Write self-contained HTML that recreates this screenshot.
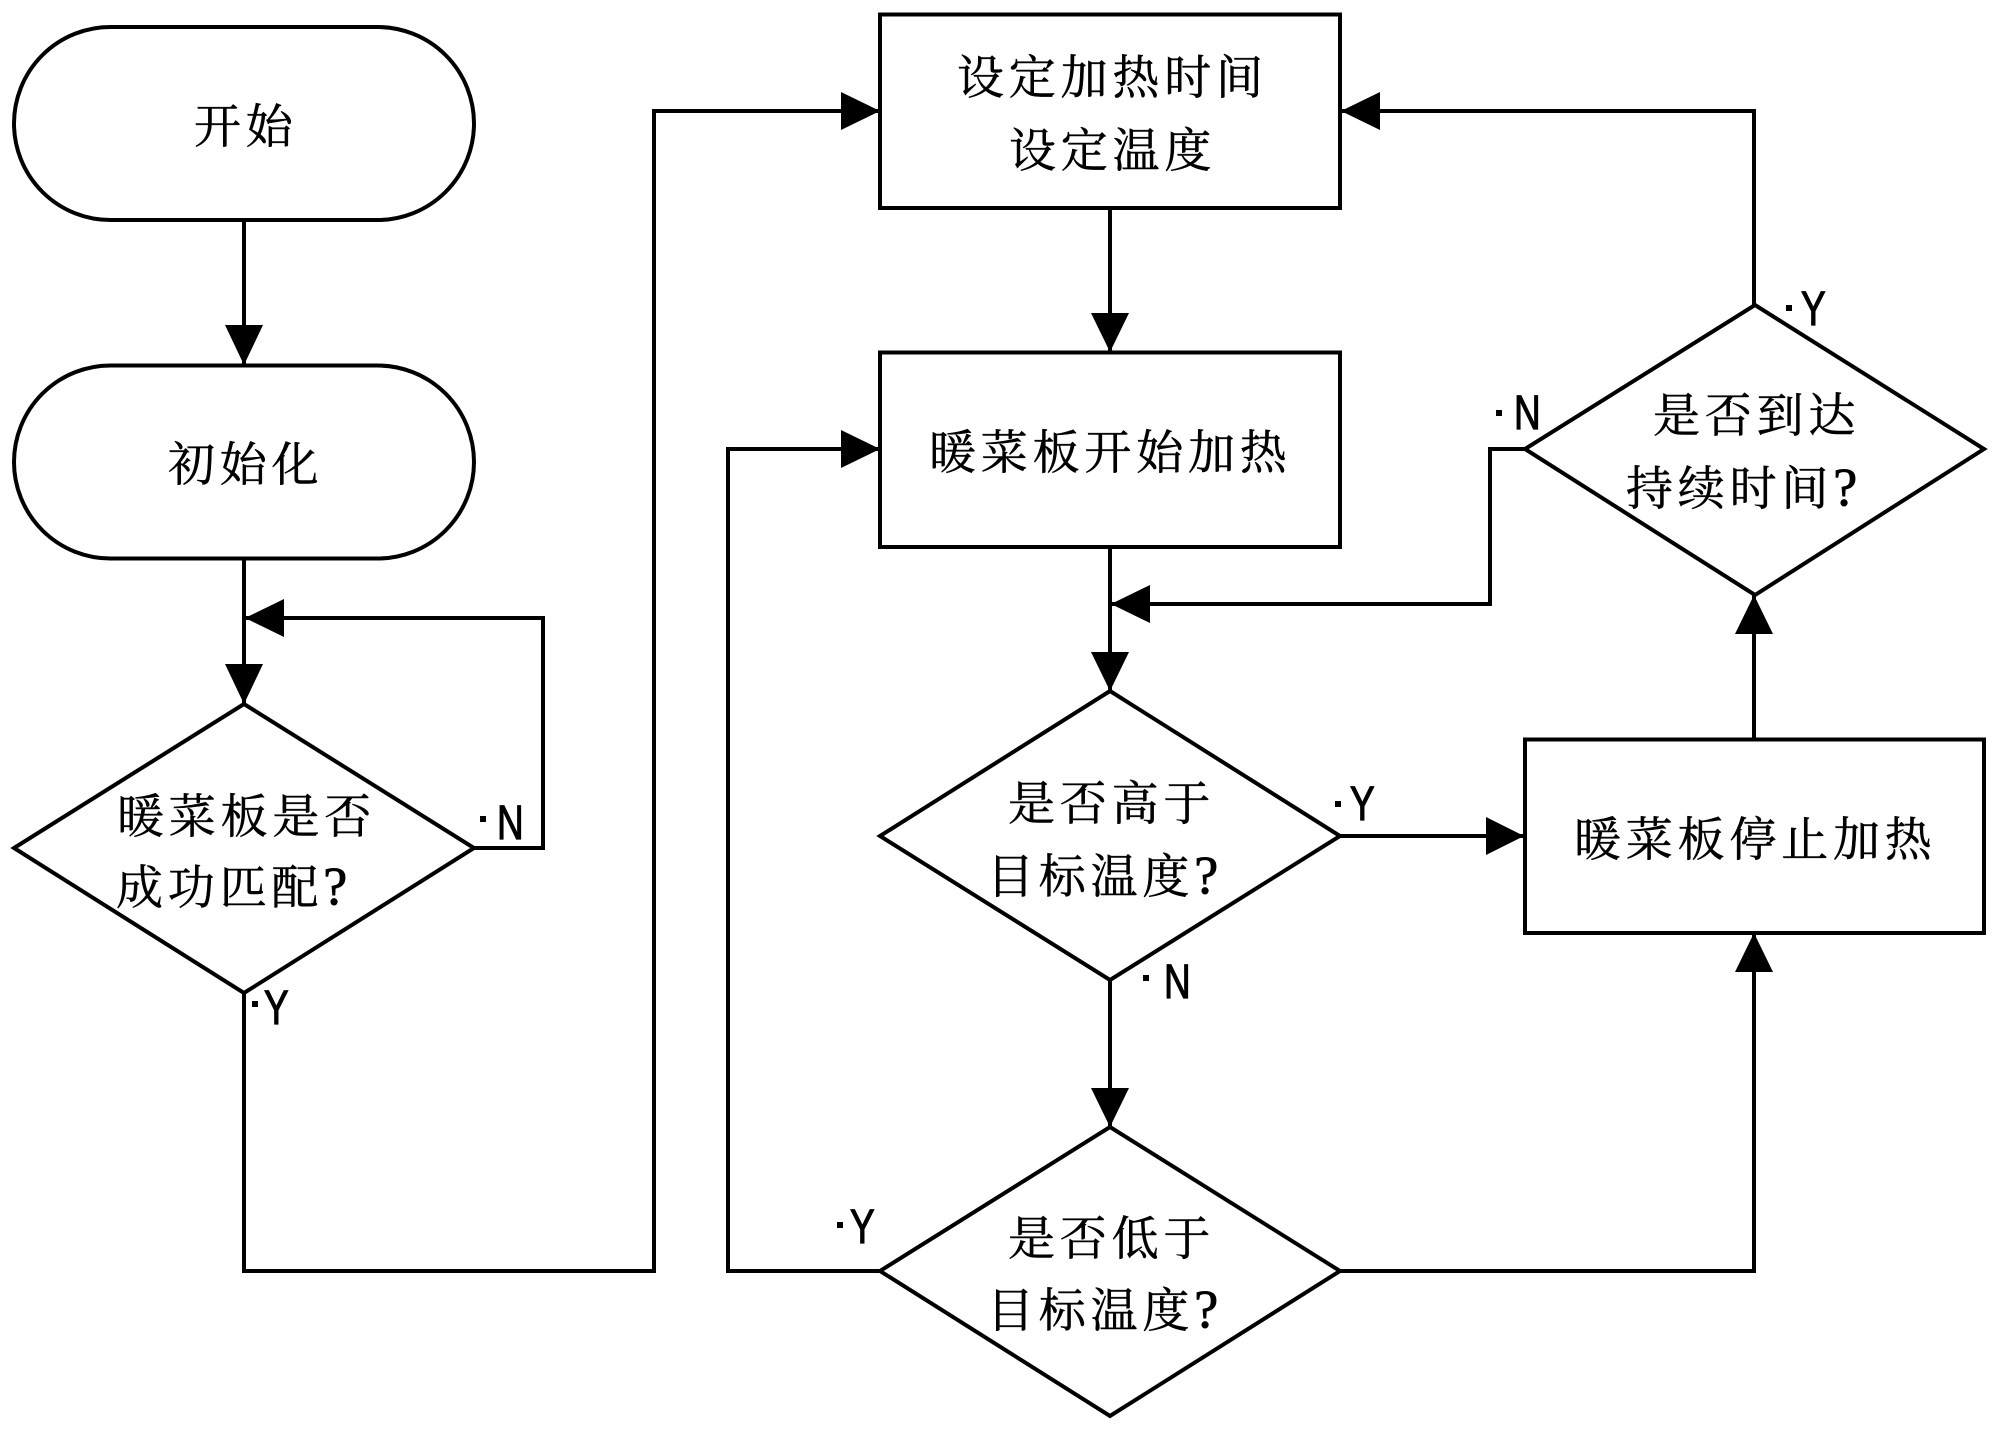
<!DOCTYPE html>
<html lang="zh">
<head>
<meta charset="utf-8">
<title>暖菜板流程图</title>
<style>
html,body{margin:0;padding:0;background:#fff}
svg{display:block}
.s{fill:#fff;stroke:#000;stroke-width:4;stroke-linejoin:miter}
.l{fill:none;stroke:#000;stroke-width:4;stroke-linejoin:miter}
.a{fill:#000}
.t{font-family:"Liberation Serif","Noto Serif CJK SC",serif;font-size:47px;letter-spacing:4.8px;fill:#000;stroke:#000;stroke-width:.5}
.q{font-size:54px;stroke-width:.9}
.k{font-family:"Liberation Sans",sans-serif;font-size:48px;fill:#000;stroke:#000;stroke-width:1.2}
</style>
</head>
<body>
<svg width="1999" height="1429" viewBox="0 0 1999 1429" xmlns="http://www.w3.org/2000/svg">
<rect width="1999" height="1429" fill="#fff"/>

<!-- connectors -->
<path class="l" d="M244 220V366"/>
<path class="l" d="M244 558V704"/>
<path class="l" d="M474 848H543V618H244"/>
<path class="l" d="M244 993V1271H654V111H880"/>
<path class="l" d="M1110 208V352"/>
<path class="l" d="M1110 547V691"/>
<path class="l" d="M1110 980V1127"/>
<path class="l" d="M880 1271H728V449H880"/>
<path class="l" d="M1339 836H1524"/>
<path class="l" d="M1339 1271H1754V933"/>
<path class="l" d="M1754 739V595"/>
<path class="l" d="M1754 305V111H1340"/>
<path class="l" d="M1525 449H1490V604H1110"/>

<!-- shapes -->
<rect class="s" x="14" y="27" width="460" height="193" rx="96.5" ry="96.5"/>
<rect class="s" x="14" y="365.500" width="460" height="193" rx="96.5" ry="96.5"/>
<polygon class="s" points="244,704 474,848 244,993 14,848"/>
<rect class="s" x="880" y="14.500" width="460" height="193.500"/>
<rect class="s" x="880" y="352.500" width="460" height="194.500"/>
<polygon class="s" points="1110,691 1340,836 1110,980 880,836"/>
<polygon class="s" points="1110,1127 1340,1271 1110,1416 880,1271"/>
<rect class="s" x="1525" y="739.500" width="459" height="193.500"/>
<polygon class="s" points="1755,305 1984,449 1755,595 1525,449"/>

<!-- arrowheads -->
<polygon class="a" points="244,365 225,325 263,325"/>
<polygon class="a" points="244,704 225,664 263,664"/>
<polygon class="a" points="245,618 284,599 284,637"/>
<polygon class="a" points="880,111 841,92 841,130"/>
<polygon class="a" points="880,449 841,430 841,468"/>
<polygon class="a" points="1110,352 1091,313 1129,313"/>
<polygon class="a" points="1110,691 1091,652 1129,652"/>
<polygon class="a" points="1110,1127 1091,1088 1129,1088"/>
<polygon class="a" points="1111,604 1150,585 1150,623"/>
<polygon class="a" points="1524,836 1486,817 1486,855"/>
<polygon class="a" points="1754,933 1735,972 1773,972"/>
<polygon class="a" points="1754,595 1735,634 1773,634"/>
<polygon class="a" points="1341,111 1380,92 1380,130"/>

<!-- node labels -->
<text class="t" x="194" y="143">开始</text>
<text class="t" x="168" y="481">初始化</text>
<text class="t" x="117" y="833">暖菜板是否</text>
<text class="t" x="116" y="904">成功匹配<tspan class="q">?</tspan></text>
<text class="t" x="957" y="94">设定加热时间</text>
<text class="t" x="1009" y="167">设定温度</text>
<text class="t" x="929" y="469">暖菜板开始加热</text>
<text class="t" x="1008" y="820">是否高于</text>
<text class="t" x="987" y="893">目标温度<tspan class="q">?</tspan></text>
<text class="t" x="1008" y="1255">是否低于</text>
<text class="t" x="987" y="1327">目标温度<tspan class="q">?</tspan></text>
<text class="t" x="1574" y="856">暖菜板停止加热</text>
<text class="t" x="1653" y="432">是否到达</text>
<text class="t" x="1626" y="505">持续时间<tspan class="q">?</tspan></text>

<!-- branch labels -->
<rect class="a" x="480" y="816" width="6" height="6"/>
<text class="k" transform="translate(497 839) scale(.77 1)">N</text>
<rect class="a" x="252" y="1001" width="6" height="6"/>
<text class="k" transform="translate(264 1024) scale(.77 1)">Y</text>
<rect class="a" x="1335" y="801" width="6" height="6"/>
<text class="k" transform="translate(1350 820) scale(.77 1)">Y</text>
<rect class="a" x="1143" y="975" width="6" height="6"/>
<text class="k" transform="translate(1164 998) scale(.77 1)">N</text>
<rect class="a" x="837" y="1222" width="6" height="6"/>
<text class="k" transform="translate(850 1243) scale(.77 1)">Y</text>
<rect class="a" x="1786" y="305" width="6" height="6"/>
<text class="k" transform="translate(1801 325) scale(.77 1)">Y</text>
<rect class="a" x="1496" y="410" width="6" height="6"/>
<text class="k" transform="translate(1514 429) scale(.77 1)">N</text>
</svg>
</body>
</html>
